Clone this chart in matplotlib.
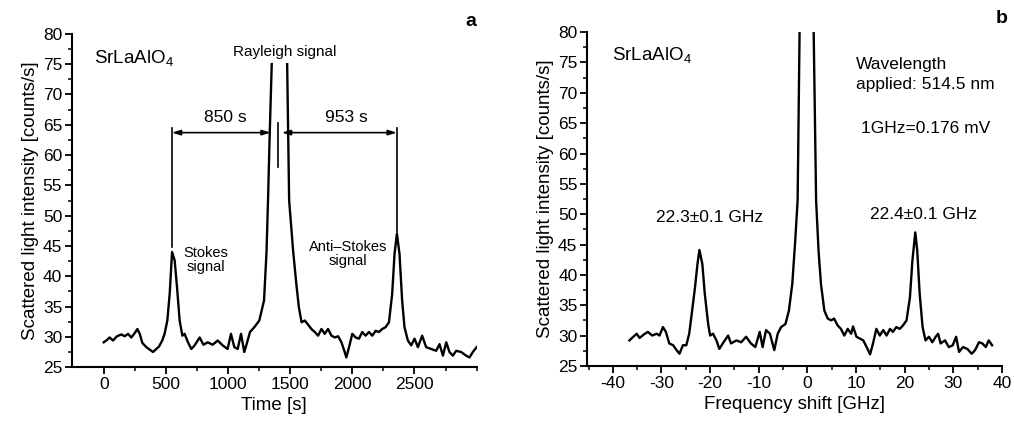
import numpy as np
import matplotlib
matplotlib.use("Agg")
import matplotlib.pyplot as plt

plt.rcParams['font.family'] = ['Liberation Sans', 'DejaVu Sans']
plt.rcParams['mathtext.fontset'] = 'custom'
plt.rcParams['mathtext.rm'] = 'Liberation Sans'
plt.rcParams['mathtext.it'] = 'Liberation Sans:italic'
plt.rcParams['mathtext.bf'] = 'Liberation Sans:bold'
plt.rcParams['axes.unicode_minus'] = False

# ---------------- Panel a: time domain ----------------
time_s = [0, 27, 48, 75, 107, 142, 169, 196, 222, 249, 271, 290, 311, 343, 370, 397,
          423, 445, 471, 490, 512, 531, 550, 571, 590, 611, 633, 651, 678, 705, 732,
          772, 802, 837, 877, 917, 957, 997, 1024, 1051, 1078, 1105, 1131, 1150, 1177,
          1212, 1252, 1290, 1310, 1322, 1335, 1352, 1414,
          1476, 1492, 1524, 1550, 1570, 1592, 1618, 1645, 1671, 1698, 1725, 1752, 1778,
          1805, 1832, 1859, 1886, 1913, 1939, 1952, 1974, 2000, 2027, 2054, 2080, 2107,
          2134, 2161, 2188, 2214, 2241, 2268, 2295, 2321, 2340, 2359, 2380, 2401, 2420,
          2447, 2474, 2501, 2528, 2562, 2594, 2635, 2675, 2702, 2729, 2756, 2782, 2809,
          2836, 2876, 2916, 2943, 2970, 3000]
intensity_a = [29.1, 29.5, 29.9, 29.4, 30.1, 30.4, 30.1, 30.5, 29.9, 30.6, 31.3, 30.5, 29.0,
               28.3, 27.9, 27.5, 28.0, 28.4, 29.4, 30.5, 32.7, 37.1, 44.0, 42.6, 38.2, 32.7,
               30.2, 30.5, 29.1, 28.0, 28.6, 29.9, 28.7, 29.1, 28.7, 29.4, 28.6, 28.0, 30.5,
               28.3, 28.0, 30.5, 27.5, 28.8, 30.8, 31.6, 32.7, 36.0, 44.0, 52.5, 63.0, 75.0,
               np.nan,
               75.0, 52.5, 44.2, 38.7, 34.9, 32.4, 32.7, 32.0, 31.3, 30.8, 30.2, 31.3, 30.5,
               31.3, 30.2, 29.9, 30.1, 29.1, 27.5, 26.6, 28.3, 30.5, 29.9, 29.7, 30.8, 30.2,
               30.8, 30.2, 31.0, 30.8, 31.3, 31.6, 32.4, 37.1, 43.7, 47.0, 43.7, 36.0, 31.6,
               29.4, 28.6, 29.7, 28.3, 30.2, 28.3, 28.0, 27.7, 28.8, 26.9, 29.1, 27.5, 26.9,
               27.7, 27.5, 26.9, 26.6, 27.5, 28.3]

# ---------------- Panel b: frequency domain ----------------
freq_ghz = [-36.6, -35.8, -35.1, -34.5, -33.6, -32.8, -31.9, -31.0, -30.4, -29.7, -29.1,
            -28.4, -27.6, -26.9, -26.3, -25.6, -24.9, -24.3, -23.7, -23.1, -22.6, -22.2,
            -21.6, -21.1, -20.4, -20.0, -19.4, -18.7, -18.1, -17.4, -16.3, -15.7, -14.6,
            -13.6, -12.6, -11.6, -10.7, -9.8, -9.2, -8.5, -7.7, -6.8, -6.1, -5.4, -4.5,
            -3.8, -3.1, -2.5, -2.0, -1.6, -1.2, -0.2, 0.8, 1.3, 1.8, 2.3, 2.8, 3.5, 4.2,
            4.9, 5.5, 6.2, 6.9, 7.6, 8.3, 9.0, 9.4, 10.1, 10.8, 11.5, 12.2, 12.9, 13.5,
            14.2, 14.9, 15.6, 16.3, 17.0, 17.6, 18.3, 19.0, 19.7, 20.4, 21.1, 21.6, 22.2,
            22.6, 23.1, 23.7, 24.3, 25.0, 25.7, 26.4, 26.9, 27.4, 28.3, 29.1, 29.9, 30.6,
            31.2, 32.0, 32.9, 33.8, 34.5, 35.3, 36.0, 36.7, 37.3, 38.0]
intensity_b = [29.2, 29.8, 30.3, 29.6, 30.2, 30.6, 30.0, 30.3, 30.0, 31.4, 30.6,
               28.7, 28.4, 27.6, 27.0, 28.4, 28.4, 30.3, 34.1, 38.0, 41.8, 44.1,
               41.8, 36.9, 31.9, 30.0, 30.3, 29.2, 27.8, 28.7, 30.0, 28.7, 29.2,
               28.9, 29.8, 28.7, 28.1, 30.6, 28.1, 30.9, 30.3, 27.6, 30.3, 31.4, 31.9,
               34.1, 38.5, 45.6, 52.3, 80.0, 108.0, 140.0, 108.0, 80.0, 52.3, 44.0, 38.5,
               34.1, 32.8,
               32.5, 32.8, 31.7, 31.1, 30.0, 31.1, 30.3, 31.5, 29.8, 29.5, 29.2, 28.1, 26.9,
               28.7, 31.1, 30.0, 30.9, 30.0, 31.1, 30.6, 31.4, 31.1, 31.7, 32.5, 36.3, 42.3,
               47.0, 44.0, 36.9, 31.4, 29.2, 29.8, 28.9, 29.8, 30.3, 28.7, 29.2, 28.1, 28.4,
               29.8, 27.3, 28.1, 27.8, 27.0, 27.6, 28.9, 28.7, 28.1, 29.2, 28.4]

y_ticks = [25, 30, 35, 40, 45, 50, 55, 60, 65, 70, 75, 80]
x_ticks_a = [0, 500, 1000, 1500, 2000, 2500]
x_ticks_b = [-40, -30, -20, -10, 0, 10, 20, 30, 40]

fig = plt.figure(figsize=(10.14, 4.23), dpi=100)
ax1 = fig.add_axes([0.071, 0.132, 0.399, 0.788])
ax2 = fig.add_axes([0.579, 0.135, 0.409, 0.789])

TICK_FS = 12.5
LABEL_FS = 13.5


def style(ax):
    for s in ('top', 'right'):
        ax.spines[s].set_visible(False)
    for s in ('left', 'bottom'):
        ax.spines[s].set_linewidth(1.5)
        ax.spines[s].set_color('black')
    ax.tick_params(which='major', direction='out', length=5, width=1.3,
                   labelsize=TICK_FS, pad=2)
    ax.tick_params(which='minor', direction='out', length=3, width=1.1)
    ax.set_ylim(25, 80)
    ax.set_yticks(y_ticks)
    ax.set_yticks(np.arange(25, 80.1, 2.5), minor=True)
    ax.set_ylabel('Scattered light intensity [counts/s]', fontsize=LABEL_FS, labelpad=3)


# ---- panel a ----
ax1.plot(time_s, intensity_a, color='black', lw=1.7)
style(ax1)
ax1.set_xlim(-255, 3000)
ax1.set_xticks(x_ticks_a)
ax1.set_xticks(np.arange(0, 3001, 250), minor=True)
ax1.set_xlabel('Time [s]', fontsize=LABEL_FS, labelpad=4)

ax1.text(-75, 76.0, r'SrLaAlO$_\mathrm{4}$', fontsize=13.5, va='center', ha='left')
ax1.text(1457, 77.0, 'Rayleigh signal', fontsize=11, ha='center', va='center')
ax1.text(3000, 82.0, 'a', fontsize=14, fontweight='bold', ha='right', va='center',
         clip_on=False)

# measurement markers
ax1.plot([547, 547], [44.8, 64.5], color='black', lw=1.2)
ax1.plot([2360, 2360], [47.3, 64.5], color='black', lw=1.2)
ax1.plot([1401, 1401], [58.0, 65.3], color='black', lw=1.2)
arrow_kw = dict(arrowstyle='<|-|>,head_length=0.5,head_width=0.15', color='black',
                lw=1.2, shrinkA=0, shrinkB=0)
ax1.annotate('', xy=(547, 63.7), xytext=(1345, 63.7), arrowprops=arrow_kw)
ax1.annotate('', xy=(1432, 63.7), xytext=(2360, 63.7), arrowprops=arrow_kw)
ax1.text(976, 66.2, '850 s', fontsize=12.5, ha='center', va='center')
ax1.text(1956, 66.2, '953 s', fontsize=12.5, ha='center', va='center')
ax1.text(822, 42.7, 'Stokes\nsignal', fontsize=10.5, ha='center', va='center',
         linespacing=1.0)
ax1.text(1965, 43.7, 'Anti\u2013Stokes\nsignal', fontsize=10.5, ha='center', va='center',
         linespacing=1.0)

# ---- panel b ----
ax2.plot(freq_ghz, intensity_b, color='black', lw=1.7)
style(ax2)
ax2.set_xlim(-45.3, 40)
ax2.set_xticks(x_ticks_b)
ax2.set_xticks(np.arange(-45, 40.1, 5), minor=True)
ax2.set_xlabel('Frequency shift [GHz]', fontsize=LABEL_FS, labelpad=4)

ax2.text(-40.2, 76.2, r'SrLaAlO$_\mathrm{4}$', fontsize=13.5, va='center', ha='left')
ax2.text(10.0, 74.6, 'Wavelength', fontsize=12.5, va='center', ha='left')
ax2.text(10.0, 71.3, 'applied: 514.5 nm', fontsize=12.5, va='center', ha='left')
ax2.text(11.1, 64.2, '1GHz=0.176 mV', fontsize=12.5, va='center', ha='left')
ax2.text(-20.1, 49.4, '22.3\u00b10.1 GHz', fontsize=12.5, va='center', ha='center')
ax2.text(24.0, 50.0, '22.4\u00b10.1 GHz', fontsize=12.5, va='center', ha='center')
ax2.text(40, 82.2, 'b', fontsize=14, fontweight='bold', ha='center', va='center',
         clip_on=False)

fig.savefig('out.png', dpi=100)
